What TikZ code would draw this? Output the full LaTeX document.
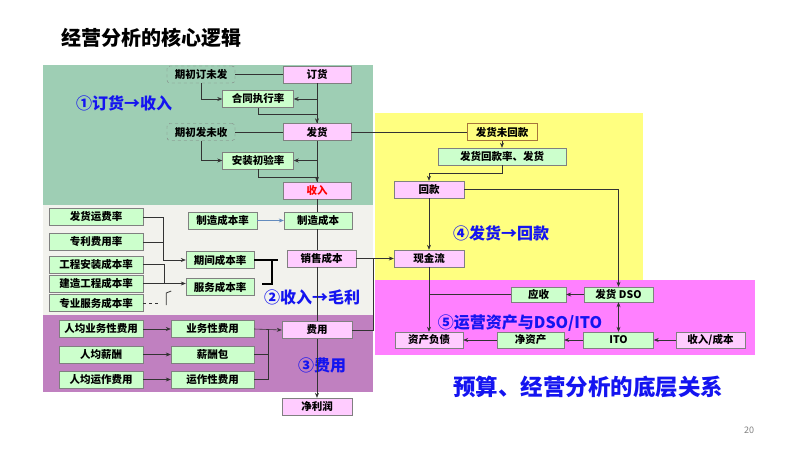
\documentclass[tikz,border=0pt]{standalone}
\usepackage{fontspec}
\setmainfont{Noto Sans CJK SC}
\usepackage{xcolor}
\usepackage{tikz}
\usetikzlibrary{arrows.meta}
\definecolor{jyteal}{RGB}{158,206,180}
\definecolor{jyoff}{RGB}{242,242,237}
\definecolor{jyplum}{RGB}{192,128,192}
\definecolor{jyyel}{RGB}{255,255,128}
\definecolor{jymag}{RGB}{255,128,255}
\definecolor{jypink}{RGB}{255,204,255}
\definecolor{jymint}{RGB}{204,255,204}
\definecolor{jyedge}{RGB}{128,128,128}
\definecolor{jyblue}{RGB}{20,20,240}
\definecolor{jysteel}{RGB}{100,140,190}
\tikzset{
  box/.style={draw=jyedge, thin, minimum height=17, inner sep=1pt,
              font=\fontsize{10.5}{11}\selectfont\bfseries},
  pk/.style={box, fill=jypink},
  gn/.style={box, fill=jymint},
  tbd/.style={box, draw=jyedge, dashed, rounded corners=3pt},
  ln/.style={draw=black!80, semithick},
  arr/.style={ln, -{Stealth[length=5pt,width=4pt]}},
  blarr/.style={draw=jysteel, semithick, -{Stealth[length=5pt,width=4pt]}},
  brk/.style={draw=black, line width=2.2pt},
  lbl/.style={font=\fontsize{16}{18}\selectfont\bfseries, color=jyblue},
}
\begin{document}
\begin{tikzpicture}[x=1pt, y=-1pt]
\useasboundingbox (0,0) rectangle (800,450);
\fill[jyteal] (43,65) rectangle (373,205);
\fill[jyoff] (43,205) rectangle (373,315);
\fill[jyplum] (43,315) rectangle (373,392);
\fill[jyyel] (375,113) rectangle (643,282);
\fill[jymag] (375,280) rectangle (755,355);

\node[anchor=west, font=\fontsize{20}{22}\selectfont\bfseries] (title) at (58,38) {经营分析的核心逻辑};

\node[pk, minimum width=68] (dh) at (317,74.5) {订货};
\node[tbd, minimum width=68] (qdw) at (201,74.5) {期初订未发};
\node[gn, minimum width=71] (htl) at (258,99) {合同执行率};
\node[pk, minimum width=68] (fh) at (317,132) {发货};
\node[tbd, minimum width=68] (qfw) at (201,132) {期初发未收};
\node[gn, minimum width=71] (azl) at (258,160.5) {安装初验率};
\node[pk, minimum width=68, text=red] (sr) at (317,190.5) {收入};

\node[gn, minimum width=69] (zzl) at (222.5,220.5) {制造成本率};
\node[gn, minimum width=68] (zzcb) at (318,220.5) {制造成本};
\node[gn, minimum width=94] (fyf) at (96,217) {发货运费率};
\node[gn, minimum width=94] (zlf) at (96,242) {专利费用率};
\node[gn, minimum width=94] (gca) at (96,264.5) {工程安装成本率};
\node[gn, minimum width=94] (jzg) at (96,283.5) {建造工程成本率};
\node[gn, minimum width=94] (zyf) at (96,303) {专业服务成本率};
\node[gn, minimum width=68] (qjl) at (220,260) {期间成本率};
\node[gn, minimum width=68] (fwl) at (220,287) {服务成本率};
\node[pk, minimum width=69] (xscb) at (321.5,258.5) {销售成本};

\node[gn, minimum width=84] (rjyw) at (101,329) {人均业务性费用};
\node[gn, minimum width=84] (rjxc) at (101,354.5) {人均薪酬};
\node[gn, minimum width=84] (rjyz) at (101,379.5) {人均运作费用};
\node[gn, minimum width=83] (ywf) at (212.5,329) {业务性费用};
\node[gn, minimum width=83] (xcb) at (212.5,354.5) {薪酬包};
\node[gn, minimum width=83] (yzf) at (212.5,379.5) {运作性费用};
\node[pk, minimum width=70] (fy) at (317,330) {费用};
\node[pk, minimum width=70] (jlr) at (317,406.5) {净利润};

\node[box, minimum width=70, draw=black!55!yellow!70!red] (fhwhk) at (502,132) {发货未回款};
\node[gn, minimum width=128] (fhhkl) at (502,156.5) {发货回款率、发货};
\node[pk, minimum width=70] (hk) at (429,189.5) {回款};
\node[pk, minimum width=70] (xjl) at (429,258.5) {现金流};

\node[gn, minimum width=55, minimum height=15] (ys) at (538.5,294.5) {应收};
\node[gn, minimum width=69, minimum height=15] (dso) at (618.5,294.5) {发货 DSO};
\node[pk, minimum width=68, minimum height=16] (zcfz) at (429,340) {资产负债};
\node[gn, minimum width=67, minimum height=16] (jzc) at (530.5,340) {净资产};
\node[gn, minimum width=70, minimum height=16] (ito) at (618.5,340) {ITO};
\node[pk, minimum width=69, minimum height=16] (srcb) at (710.5,340) {收入/成本};

\node[lbl] (l1) at (124,103) {①订货→收入};
\node[lbl] (l2) at (312,297) {②收入→毛利};
\node[lbl] (l3) at (322,365) {③费用};
\node[lbl] (l4) at (501,233) {④发货→回款};
\node[lbl] (l5) at (520,323) {⑤运营资产与DSO/ITO};
\node[font=\fontsize{22.5}{24}\selectfont\bfseries, color=jyblue] (bt) at (588,387) {预算、经营分析的底层关系};
\node[font=\fontsize{9}{10}\selectfont, color=black!50] (pg) at (749,430) {20};

\draw[ln] (qdw.east) -- (dh.west);
\draw[arr] (qdw.south) |- (htl.west);
\draw[arr] (dh.south) -- (fh.north);
\draw[arr] (dh.south |- htl.east) -- (htl.east);
\draw[ln] (htl.south) -- ++(0,7) -| (fh.north);
\draw[ln] (qfw.east) -- (fh.west);
\draw[arr] (qfw.south) |- (azl.west);
\draw[arr] (fh.south) -- (sr.north);
\draw[arr] (fh.south |- azl.east) -- (azl.east);
\draw[ln] (azl.south) -- ++(0,8) -| (sr.north);
\draw[ln] (fh.east) -- (fhwhk.west);

\draw[ln] (sr.south) -- (sr.south |- zzcb.north);
\draw[ln] (sr.south |- zzcb.south) -- (sr.south |- xscb.north);
\draw[ln] (sr.south |- xscb.south) -- (fy.north);
\draw[blarr] (zzl.east) -- (zzcb.west);
\draw[arr] (fyf.east) -- ++(20,0) |- (qjl.west);
\draw[ln] (zlf.east) -- ++(20,0);
\draw[ln] (gca.east) -- ++(21,0) |- (jzg.east);
\draw[arr] (jzg.east) -- (jzg.east -| fwl.west);
\draw[ln, dashed] (zyf.east) -- ++(18,0);
\draw[ln, thick] ([xshift=23,yshift=-2]zyf.east) -- ++(0,-12) -- ++(5,-2);
\draw[brk] (qjl.east) -- ++(24,0);
\draw[brk] ([xshift=18]qjl.east) -- ++(0,24) -- ++(-10,0);
\draw[arr] (xscb.east) -- (xjl.west);
\draw[ln] (fy.east) -| ([xshift=17]xscb.east);

\draw[arr] (rjyw.east) -- (ywf.west);
\draw[arr] (rjxc.east) -- (xcb.west);
\draw[arr] (rjyz.east) -- (yzf.west);
\draw[ln] (xcb.east) -- ++(14,0);
\draw[ln] (yzf.east) -| ([xshift=14]ywf.east);
\draw[arr] (ywf.east) -- (fy.west);
\draw[arr] (fy.south) -- (jlr.north);

\draw[arr] (fhwhk.south) -- (fhhkl.north);
\draw[arr] (fhhkl.south) -- ++(0,8) -| (hk.north);
\draw[arr] (hk.east) -| (dso.north);
\draw[arr] (hk.south) -- (xjl.north);
\draw[arr] (xjl.south) -- (zcfz.north);

\draw[arr] (dso.west) -- (ys.east);
\draw[ln] (ys.west) -- (ys.west -| xjl.south);
\draw[arr, {Stealth[length=5pt,width=4pt]}-{Stealth[length=5pt,width=4pt]}] (ito.north) -- (dso.south);
\draw[arr] (ito.west) -- (jzc.east);
\draw[arr] (jzc.west) -- (zcfz.east);
\draw[arr] (srcb.west) -- (ito.east);
\end{tikzpicture}
\end{document}
